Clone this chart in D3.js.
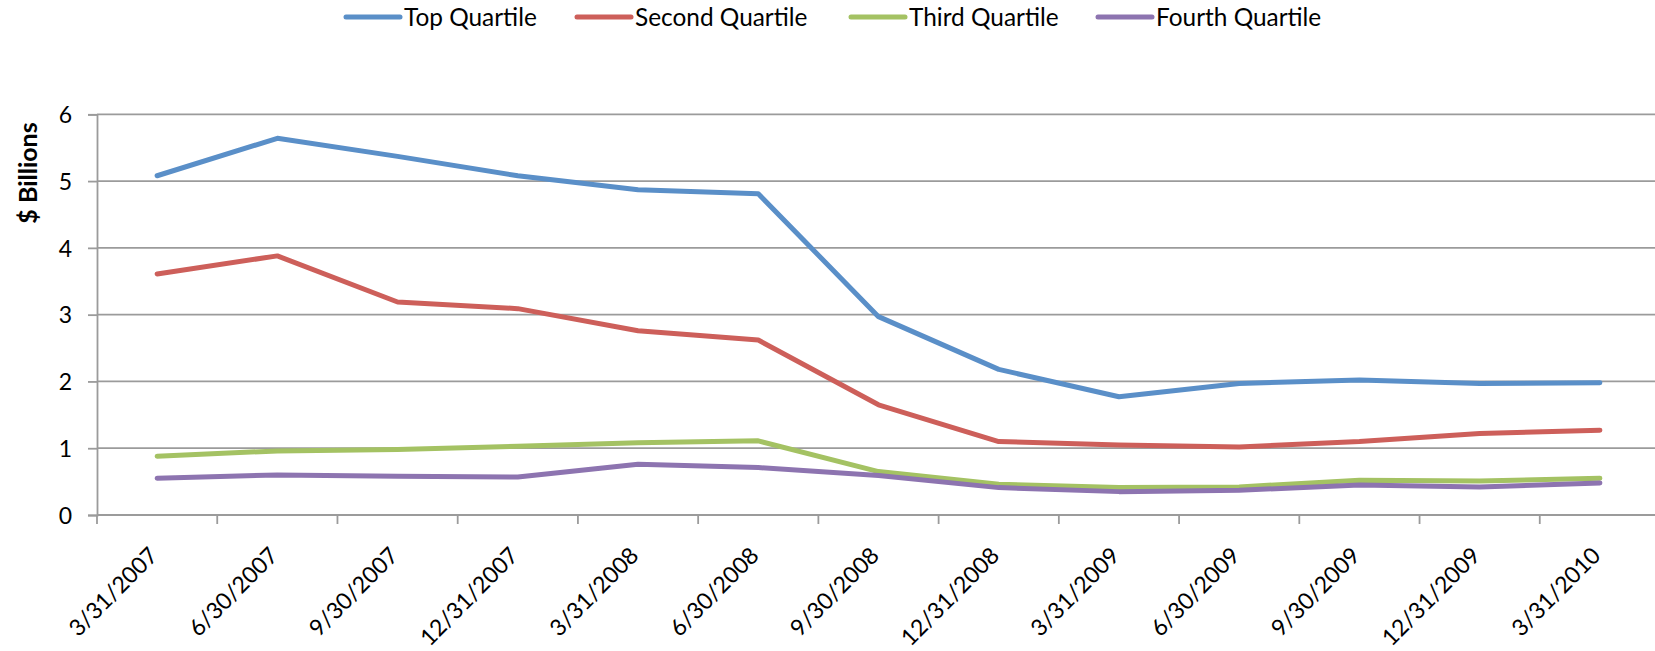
<!DOCTYPE html>
<html>
<head>
<meta charset="utf-8">
<script src="https://cdn.jsdelivr.net/npm/d3@7"></script>
<style>
  html, body { margin: 0; padding: 0; background: #fff; }
  svg { display: block; font-family: Lato, "Open Sans", sans-serif; }
</style>
</head>
<body>
<svg id="chart" width="1655" height="651"></svg>
<script>
// Quarter-end dates on the category axis
const quarters = ["3/31/2007", "6/30/2007", "9/30/2007", "12/31/2007", "3/31/2008", "6/30/2008",
  "9/30/2008", "12/31/2008", "3/31/2009", "6/30/2009", "9/30/2009", "12/31/2009", "3/31/2010"];

// Values in $ billions, one array per quartile
const topQuartile    = [5.08, 5.64, 5.37, 5.08, 4.87, 4.81, 2.97, 2.18, 1.77, 1.97, 2.02, 1.97, 1.98];
const secondQuartile = [3.61, 3.88, 3.19, 3.09, 2.76, 2.62, 1.65, 1.10, 1.05, 1.02, 1.10, 1.22, 1.27];
const thirdQuartile  = [0.88, 0.96, 0.98, 1.03, 1.08, 1.11, 0.65, 0.46, 0.41, 0.42, 0.52, 0.51, 0.55];
const fourthQuartile = [0.55, 0.60, 0.58, 0.57, 0.76, 0.71, 0.59, 0.41, 0.35, 0.37, 0.45, 0.42, 0.48];

const seriesNames  = ["Top Quartile", "Second Quartile", "Third Quartile", "Fourth Quartile"];
const seriesColors = ["#5a8fc8", "#cd5f5a", "#a4c263", "#8d74b0"];
const yTicks = [0, 1, 2, 3, 4, 5, 6];

const series = [topQuartile, secondQuartile, thirdQuartile, fourthQuartile]
  .map((values, i) => ({ name: seriesNames[i], color: seriesColors[i], values }));

const svg = d3.select("#chart");
const plot = { left: 97, right: 1660, top: 114.3, bottom: 515 };

const x = d3.scaleBand().domain(quarters).range([plot.left, plot.right]).padding(0);
const y = d3.scaleLinear().domain([0, 6]).range([plot.bottom, plot.top]);

const gridColor = "#9b9b9b";

// Horizontal gridlines
svg.append("g")
  .selectAll("line")
  .data(yTicks.filter(d => d > 0))
  .join("line")
  .attr("x1", plot.left).attr("x2", plot.right)
  .attr("y1", d => y(d)).attr("y2", d => y(d))
  .attr("stroke", gridColor).attr("stroke-width", 1.8);

// Y axis with outward ticks
const yAxis = svg.append("g")
  .attr("transform", `translate(${plot.left},0)`)
  .call(d3.axisLeft(y).tickValues(yTicks).tickSize(9).tickPadding(16).tickFormat(d3.format("d")));
yAxis.select(".domain").attr("stroke", gridColor).attr("stroke-width", 1.8);
yAxis.selectAll(".tick line").attr("stroke", gridColor).attr("stroke-width", 1.8);
yAxis.selectAll(".tick text")
  .attr("font-size", 23).attr("fill", "#000").attr("dy", "0.36em")
  .style("font-family", "Lato, sans-serif");

// X axis: ticks sit on category boundaries
const boundaries = quarters.map(q => x(q));
const xAxis = svg.append("g");
xAxis.append("line")
  .attr("x1", plot.left).attr("x2", plot.right)
  .attr("y1", plot.bottom).attr("y2", plot.bottom)
  .attr("stroke", gridColor).attr("stroke-width", 1.8);
xAxis.selectAll("line.tick")
  .data(boundaries)
  .join("line")
  .attr("class", "tick")
  .attr("x1", d => d).attr("x2", d => d)
  .attr("y1", plot.bottom).attr("y2", plot.bottom + 9)
  .attr("stroke", gridColor).attr("stroke-width", 1.8);

// Rotated category labels
xAxis.selectAll("text")
  .data(quarters)
  .join("text")
  .attr("transform", d => `translate(${x(d) + x.bandwidth() / 2 + 2},${plot.bottom + 42}) rotate(-45)`)
  .attr("text-anchor", "end")
  .attr("font-size", 23)
  .attr("fill", "#000")
  .text(d => d);

// Y axis title
svg.append("text")
  .attr("transform", "translate(36.5,173) rotate(-90)")
  .attr("text-anchor", "middle")
  .attr("font-size", 25)
  .attr("font-weight", "bold")
  .attr("fill", "#000")
  .text("$ Billions");

// Series lines
const line = d3.line()
  .x((d, i) => x(quarters[i]) + x.bandwidth() / 2)
  .y(d => y(d));

svg.append("g")
  .selectAll("path")
  .data(series)
  .join("path")
  .attr("d", d => line(d.values))
  .attr("fill", "none")
  .attr("stroke", d => d.color)
  .attr("stroke-width", 5)
  .attr("stroke-linecap", "round")
  .attr("stroke-linejoin", "round");

// Legend along the top
const legendX = [346, 577, 851, 1098];
const legend = svg.append("g")
  .selectAll("g")
  .data(series)
  .join("g")
  .attr("transform", (d, i) => `translate(${legendX[i]},17)`);
legend.append("line")
  .attr("x1", 0).attr("x2", 54)
  .attr("y1", 0).attr("y2", 0)
  .attr("stroke", d => d.color)
  .attr("stroke-width", 5)
  .attr("stroke-linecap", "round");
legend.append("text")
  .attr("x", 58)
  .attr("y", 0)
  .attr("dy", "0.36em")
  .attr("font-size", 24.4)
  .attr("fill", "#000")
  .text(d => d.name);
</script>
</body>
</html>
